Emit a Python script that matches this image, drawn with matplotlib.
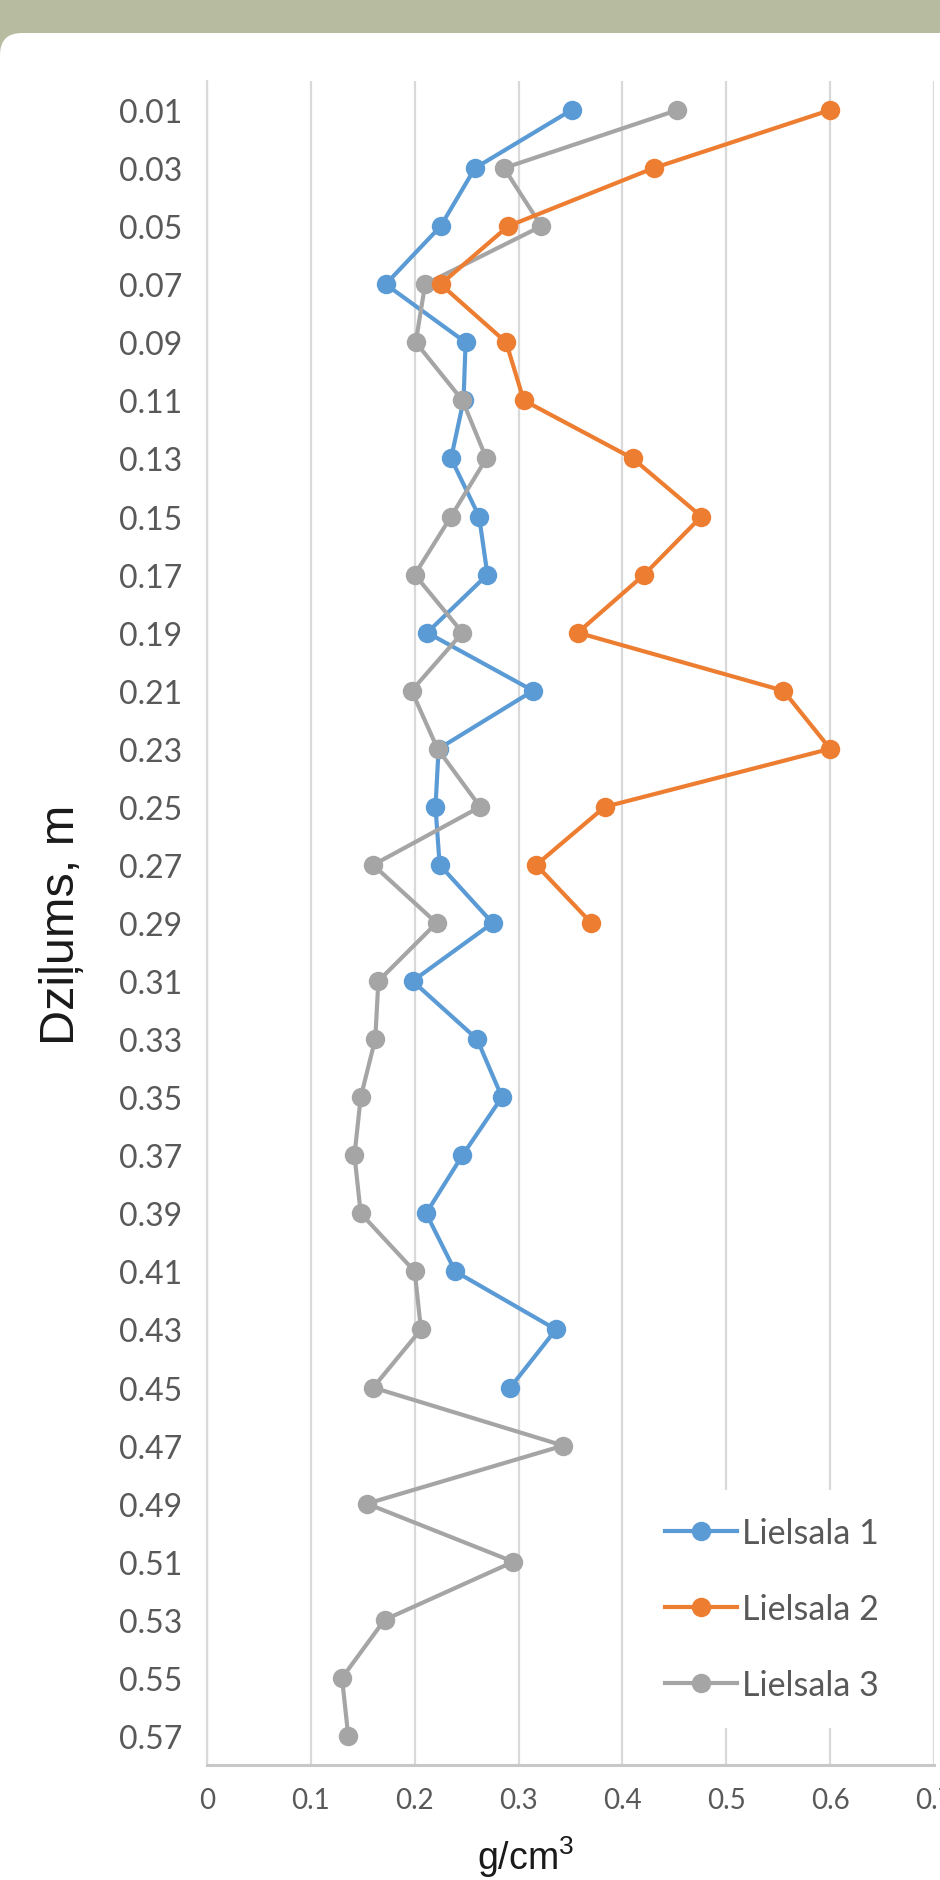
import numpy as np
import matplotlib
matplotlib.use('Agg')
import matplotlib.pyplot as plt
from matplotlib.patches import FancyBboxPatch
from matplotlib.transforms import IdentityTransform

plt.rcParams['mathtext.fontset'] = 'custom'
plt.rcParams['mathtext.rm'] = 'Liberation Sans'
plt.rcParams['mathtext.default'] = 'rm'

# depth of each sample, m
depths = ['0.01', '0.03', '0.05', '0.07', '0.09', '0.11', '0.13', '0.15', '0.17', '0.19',
          '0.21', '0.23', '0.25', '0.27', '0.29', '0.31', '0.33', '0.35', '0.37', '0.39',
          '0.41', '0.43', '0.45', '0.47', '0.49', '0.51', '0.53', '0.55', '0.57']

# bulk density, g/cm3
lielsala_1 = [0.351, 0.258, 0.225, 0.172, 0.249, 0.247, 0.235, 0.262, 0.270, 0.212,
              0.314, 0.223, 0.220, 0.224, 0.275, 0.198, 0.260, 0.284, 0.246, 0.211,
              0.239, 0.336, 0.292]
lielsala_2 = [0.600, 0.430, 0.290, 0.225, 0.288, 0.305, 0.410, 0.476, 0.421, 0.357,
              0.555, 0.600, 0.383, 0.317, 0.370]
lielsala_3 = [0.453, 0.286, 0.322, 0.210, 0.201, 0.246, 0.269, 0.235, 0.200, 0.246,
              0.197, 0.222, 0.263, 0.160, 0.221, 0.165, 0.162, 0.148, 0.142, 0.148,
              0.200, 0.206, 0.160, 0.343, 0.154, 0.295, 0.171, 0.130, 0.136]

x_ticks = [0, 0.1, 0.2, 0.3, 0.4, 0.5, 0.6, 0.7]
x_tick_labels = ['0', '0.1', '0.2', '0.3', '0.4', '0.5', '0.6', '0.7']

series = [('Lielsala 1', lielsala_1, '#5B9BD5'),
          ('Lielsala 3', lielsala_3, '#A5A5A5'),
          ('Lielsala 2', lielsala_2, '#ED7D31')]

W, H = 940, 1881
fig = plt.figure(figsize=(W / 100, H / 100), dpi=100, facecolor='#B7BCA0')

# white slide panel with a rounded corner under the olive header strip
panel = FancyBboxPatch((0, -60), W + 60, H - 34 + 60,
                       boxstyle='round,pad=0,rounding_size=22',
                       facecolor='white', edgecolor='none',
                       transform=IdentityTransform(), zorder=-1)
fig.add_artist(panel)

ax = fig.add_axes([207 / W, 1 - 1766 / H, (934 - 207) / W, (1766 - 82) / H])
ax.set_facecolor('white')

lines = {}
for name, vals, col in series:
    y = np.arange(len(vals))
    ln, = ax.plot(vals, y, color=col, lw=3.0, marker='o', markersize=14,
                  markeredgewidth=0, label=name, solid_joinstyle='round')
    lines[name] = ln

ax.set_xlim(0, 0.7)
ax.set_ylim(len(depths) - 0.5, -0.5)
ax.set_xticks(x_ticks)
ax.set_xticklabels(x_tick_labels, fontsize=20, family=['Lato', 'DejaVu Sans'], color='#595959')
ax.set_yticks(np.arange(len(depths)))
ax.set_yticklabels(depths, fontsize=23, family=['Lato', 'DejaVu Sans'], color='#595959')
ax.tick_params(axis='both', length=0)
ax.tick_params(axis='y', pad=18)
ax.tick_params(axis='x', pad=16)

ax.grid(axis='x', color='#D9D9D9', lw=1.6)
ax.grid(axis='y', visible=False)
ax.set_axisbelow(True)
for side in ['top', 'right']:
    ax.spines[side].set_visible(False)
ax.spines['left'].set_color('#D9D9D9')
ax.spines['left'].set_linewidth(1.6)
ax.spines['bottom'].set_color('#C8C8C8')
ax.spines['bottom'].set_linewidth(2.2)

order = ['Lielsala 1', 'Lielsala 2', 'Lielsala 3']
leg = ax.legend([lines[n] for n in order], order, loc='center',
                bbox_to_anchor=(772 / W, 1 - 1610 / H), bbox_transform=fig.transFigure,
                frameon=True, facecolor='white', edgecolor='none', framealpha=1,
                fancybox=False, handlelength=2.1, handletextpad=0.15,
                labelspacing=1.3, borderpad=0.8,
                prop={'family': ['Lato', 'DejaVu Sans'], 'size': 24.5})
for t in leg.get_texts():
    t.set_color('#595959')

fig.text(62 / W, 1 - 925 / H, 'Dziļums, m', rotation=90, ha='center', va='center',
         fontsize=35, family=['Liberation Sans', 'DejaVu Sans'], color='#1A1A1A')
fig.text(526 / W, 1 - 1870 / H, r'g/cm$^{3}$', ha='center', va='baseline',
         fontsize=27, family=['Liberation Sans', 'DejaVu Sans'], color='#1A1A1A')

fig.savefig('out.png', dpi=100, facecolor=fig.get_facecolor())
